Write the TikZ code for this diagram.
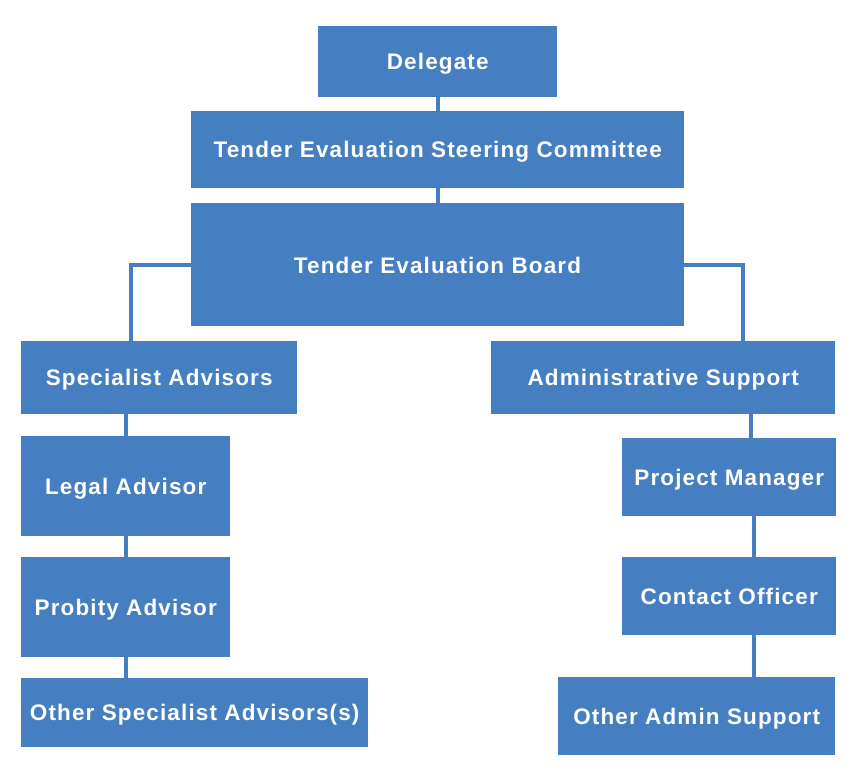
\documentclass[tikz,border=0pt]{standalone}
\usepackage{fontspec}
\setmainfont{Liberation Sans}[LetterSpace=5]
\definecolor{boxblue}{RGB}{70,126,194}
\tikzset{
  boxtext/.style={text=white, font=\bfseries\fontsize{22.5}{26}\selectfont,
    inner sep=0pt, text height=16pt, text depth=0pt},
  box/.style={boxtext, fill=boxblue, draw=none, anchor=north west},
  link/.style={draw=boxblue, line width=4pt}
}
\begin{document}
\begin{tikzpicture}[x=1pt,y=-1pt]
  \useasboundingbox (0,0) rectangle (858,783);
  \node[box, minimum width=239, minimum height=71] (del) at (318,26) {Delegate};
  \node[box, minimum width=493, minimum height=77] (tesc) at (191,111) {Tender Evaluation Steering Committee};
  \node[box, minimum width=493, minimum height=123] (teb) at (191,203) {};
  \node[boxtext] (tebl) at (437.5,265) {Tender Evaluation Board};
  \node[box, minimum width=276, minimum height=73] (spec) at (21,341) {Specialist Advisors};
  \node[box, minimum width=209, minimum height=100] (legal) at (21,436) {Legal Advisor};
  \node[box, minimum width=209, minimum height=100] (prob) at (21,557) {Probity Advisor};
  \node[box, minimum width=347, minimum height=69] (ospec) at (21,678) {Other Specialist Advisors(s)};
  \node[box, minimum width=344, minimum height=73] (admin) at (491,341) {Administrative Support};
  \node[box, minimum width=214, minimum height=78] (pm) at (622,438) {Project Manager};
  \node[box, minimum width=214, minimum height=78] (co) at (622,557) {Contact Officer};
  \node[box, minimum width=277, minimum height=78] (oadm) at (558,677) {Other Admin Support};
  \begin{scope}[link]
    \draw (del.south) -- (tesc.north);
    \draw (tesc.south) -- (teb.north);
    \draw (teb.west) -| ([xshift=-28]spec.north);
    \draw (teb.east) -| ([xshift=80]admin.north);
    \draw (legal.north) -- (legal.north |- spec.south);
    \draw (legal.south) -- (prob.north);
    \draw (prob.south) -- (prob.south |- ospec.north);
    \draw ([xshift=22]pm.north) -- ([xshift=22]pm.north |- admin.south);
    \draw ([xshift=25]co.north) -- ([xshift=25]co.north |- pm.south);
    \draw ([xshift=25]co.south) -- ([xshift=25]co.south |- oadm.north);
  \end{scope}
\end{tikzpicture}
\end{document}
